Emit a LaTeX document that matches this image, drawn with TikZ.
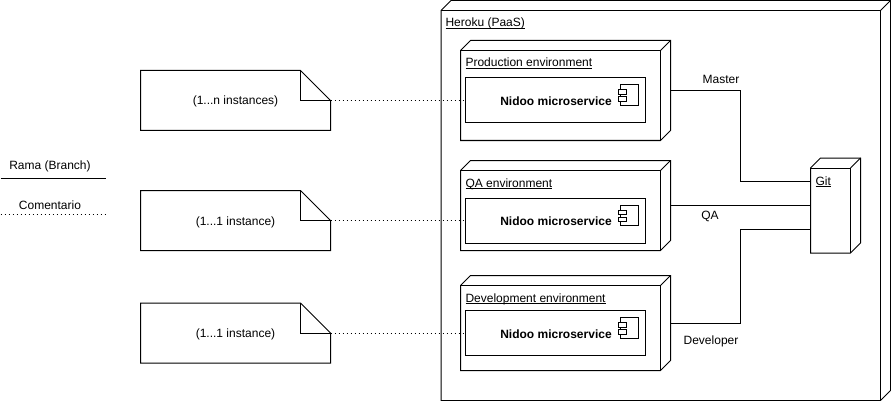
\documentclass[tikz,border=0pt]{standalone}
\usepackage{fontspec}
\setmainfont{Liberation Sans}
\newcommand{\ultext}[1]{\underline{\smash{#1}}}
\tikzset{
  base text/.style={font=\fontsize{12}{14}\selectfont, text=black, inner sep=0pt},
  cubebox/.style={rectangle, inner sep=0pt, outer sep=0pt},
  servicebox/.style={draw, line width=1pt, rectangle, minimum width=180pt, minimum height=45pt, inner sep=0pt, outer sep=0pt},
  notebox/.style={rectangle, minimum width=190pt, minimum height=60pt, text height=11pt, text depth=2pt, inner sep=0pt, outer sep=0pt},
  comment line/.style={line width=1pt, dash pattern=on 1pt off 3pt},
  branch line/.style={line width=1pt},
}
\begin{document}
\begin{tikzpicture}[x=1pt,y=-1pt,line width=1pt,every node/.style={base text}]
    \useasboundingbox (0,0) rectangle (891,401);
    %% deployment boxes
    \node[cubebox,minimum width=449.5pt,minimum height=400pt] (heroku) at (665.75,200.5) {};
    \node[cubebox,minimum width=210pt,minimum height=100pt] (prodEnv) at (565.5,90.5) {};
    \node[cubebox,minimum width=210pt,minimum height=90pt] (qaEnv) at (565.5,205.5) {};
    \node[cubebox,minimum width=210pt,minimum height=95pt] (devEnv) at (565.5,323) {};
    \node[cubebox,minimum width=50pt,minimum height=95pt] (gitRepo) at (835.5,205.5) {};
    \foreach \n in {heroku,prodEnv,qaEnv,devEnv,gitRepo} {
        \draw ([yshift=-10pt]\n.north west) -- ([xshift=10pt]\n.north west) -- (\n.north east)
            -- ([yshift=10pt]\n.south east) -- ([xshift=-10pt]\n.south east) -- (\n.south west) -- cycle;
        \draw ([yshift=-10pt]\n.north west) -- ([shift={(-10pt,-10pt)}]\n.north east)
            -- ([xshift=-10pt]\n.south east);
        \draw ([shift={(-10pt,-10pt)}]\n.north east) -- (\n.north east);
    }
    \node[anchor=base west] (herokuLabel) at (445,26.8) {\ultext{Heroku (PaaS)}};
    \node[anchor=base west] (prodLabel) at (465,66.8) {\ultext{Production environment}};
    \node[anchor=base west] (qaLabel) at (465,187) {\ultext{QA environment}};
    \node[anchor=base west] (devLabel) at (465,302) {\ultext{Development environment}};
    \node[anchor=base west] (gitLabel) at (815,185) {\ultext{Git}};
    %% services
    \node[servicebox] (prodService) at (555.5,100.5) {};
    \node[servicebox] (qaService) at (555.5,220.5) {};
    \node[servicebox] (devService) at (555.5,333) {};
    \foreach \n in {prodService,qaService,devService} {
        \node[font=\fontsize{12}{14}\selectfont\bfseries] (\n Text) at ([xshift=0.5pt,yshift=-0.8pt]\n.center) {Nidoo microservice};
        \draw ([shift={(-25.5pt,-7pt)}]\n.north east) rectangle ([shift={(-7pt,-27.5pt)}]\n.north east);
        \draw[fill=white] ([shift={(-27.5pt,-12pt)}]\n.north east) rectangle ([shift={(-19pt,-16.5pt)}]\n.north east);
        \draw[fill=white] ([shift={(-27.5pt,-19pt)}]\n.north east) rectangle ([shift={(-19pt,-23.5pt)}]\n.north east);
    }
    %% notes
    \node[notebox] (noteProd) at (235.5,100.5) {(1...n instances)};
    \node[notebox] (noteQa) at (235.5,220.5) {(1...1 instance)};
    \node[notebox] (noteDev) at (235.5,333) {(1...1 instance)};
    \foreach \n in {noteProd,noteQa,noteDev} {
        \draw (\n.north west) -- ([xshift=-30pt]\n.north east) -- ([yshift=-30pt]\n.north east)
            -- (\n.south east) -- (\n.south west) -- cycle;
        \draw ([xshift=-30pt]\n.north east) -- ([xshift=-30pt,yshift=-30pt]\n.north east) -- ([yshift=-30pt]\n.north east);
    }
    %% comments to services
    \draw[comment line] (noteProd.east) -- (prodService.west);
    \draw[comment line] (noteQa.east) -- (qaService.west);
    \draw[comment line] (noteDev.east) -- (devService.west);
    %% branches to git
    \draw[branch line] (prodEnv.east) -- ++(70,0) |- ([yshift=23.75pt]gitRepo.west);
    \draw[branch line] (qaEnv.east) -- (gitRepo.west);
    \draw[branch line] (devEnv.east) -- ++(70,0) |- ([yshift=-23.75pt]gitRepo.west);
    \node (masterLabel) at (721,79) {Master};
    \node (qaBranchLabel) at (710,216.5) {QA};
    \node (devBranchLabel) at (711,341.5) {Developer};
    %% legend
    \coordinate (legendA) at (0.5,178.5);
    \coordinate (legendB) at (105.5,178.5);
    \coordinate (legendC) at (0.5,214.5);
    \coordinate (legendD) at (105.5,214.5);
    \node (branchLegend) at (50,166) {Rama (Branch)};
    \node (commentLegend) at (50,205) {Comentario};
    \draw[branch line] (legendA) -- (legendB);
    \draw[comment line] (legendC) -- (legendD);
\end{tikzpicture}
\end{document}
